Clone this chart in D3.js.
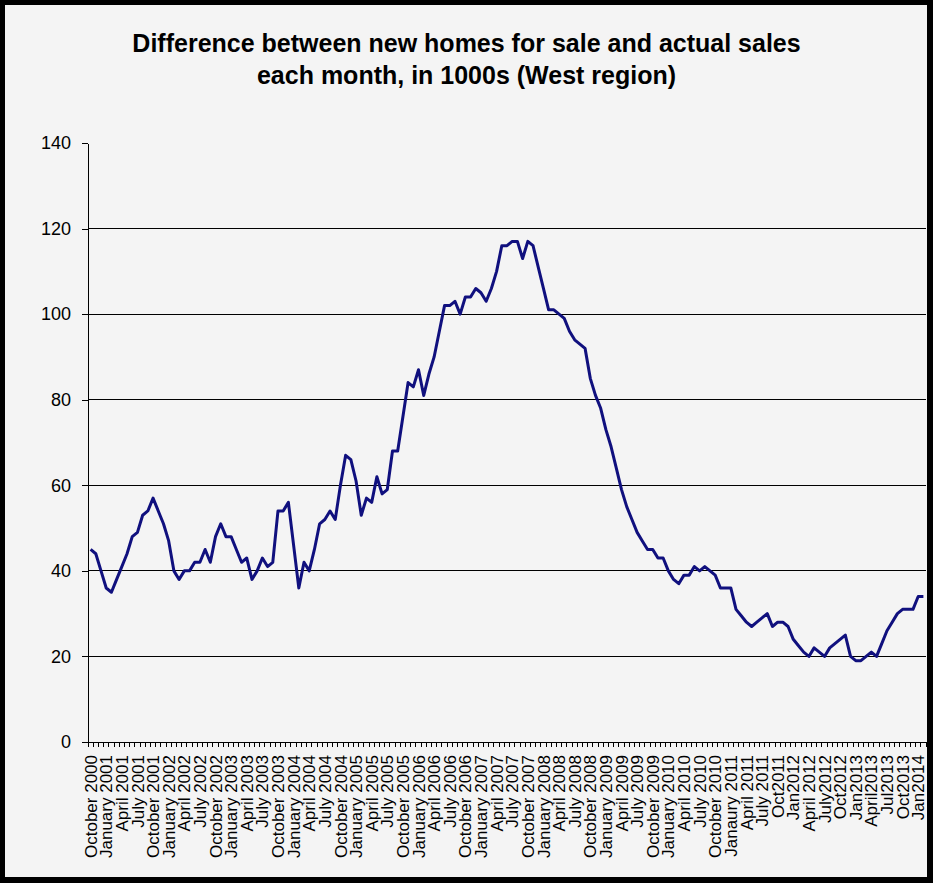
<!DOCTYPE html>
<html>
<head>
<meta charset="utf-8">
<script src="https://cdnjs.cloudflare.com/ajax/libs/d3/7.8.5/d3.min.js"></script>
<style>
  body { margin: 0; background: #000; }
  svg { display: block; font-family: Arial, "Liberation Sans", sans-serif; }
</style>
</head>
<body>
<div id="chart"></div>
<script>
// monthly values, October 2000 .. February 2014 (thousands)
const values = [
  45, 44, 40, 36, 35, 38, 41, 44, 48, 49, 53, 54, 57, 54, 51, 47, 40, 38, 40, 40,
  42, 42, 45, 42, 48, 51, 48, 48, 45, 42, 43, 38, 40, 43, 41, 42, 54, 54, 56, 46,
  36, 42, 40, 45, 51, 52, 54, 52, 60, 67, 66, 61, 53, 57, 56, 62, 58, 59, 68, 68,
  76, 84, 83, 87, 81, 86, 90, 96, 102, 102, 103, 100, 104, 104, 106, 105, 103, 106, 110, 116,
  116, 117, 117, 113, 117, 116, 111, 106, 101, 101, 100, 99, 96, 94, 93, 92, 85, 81, 78, 73,
  69, 64, 59, 55, 52, 49, 47, 45, 45, 43, 43, 40, 38, 37, 39, 39, 41, 40, 41, 40,
  39, 36, 36, 36, 31, 29.5, 28, 27, 28, 29, 30, 27, 28, 28, 27, 24, 22.5, 21, 20, 22,
  21, 20, 22, 23, 24, 25, 20, 19, 19, 20, 21, 20, 23, 26, 28, 30, 31, 31, 31, 34,
  34
];

// one label every third month, as written on the original axis
const tickLabels = [
  "October 2000",
  "January 2001", "April 2001", "July 2001", "October 2001",
  "January 2002", "April 2002", "July 2002", "October 2002",
  "January 2003", "April 2003", "July 2003", "October 2003",
  "January 2004", "April 2004", "July 2004", "October 2004",
  "January 2005", "April 2005", "July 2005", "October 2005",
  "January 2006", "April 2006", "July 2006", "October 2006",
  "January 2007", "April 2007", "July 2007", "October 2007",
  "January 2008", "April 2008", "July 2008", "October 2008",
  "January 2009", "April 2009", "July 2009", "October 2009",
  "January 2010", "April 2010", "July 2010", "October 2010",
  "Janaury 2011", "April 2011", "July 2011", "Oct2011",
  "Jan2012", "April 2012", "July2012", "Oct2012",
  "Jan2013", "April2013", "Jul2013", "Oct2013",
  "Jan2014"
];
const labelStep = 3;

const yTicks = [0, 20, 40, 60, 80, 100, 120, 140];
const gridValues = [20, 40, 60, 80, 100, 120];

const titleLines = [
  "Difference between new homes for sale and actual sales",
  "each month, in 1000s (West region)"
];

const W = 933, H = 883;
const plotL = 88, plotR = 926, plotT = 143, plotB = 742;

const svg = d3.select("#chart").append("svg")
  .attr("width", W).attr("height", H);

// black frame + light panel
svg.append("rect").attr("width", W).attr("height", H).attr("fill", "#000");
svg.append("rect").attr("x", 5).attr("y", 5).attr("width", 922).attr("height", 872)
  .attr("fill", "#f4f4f4");

// title
svg.append("g").selectAll("text").data(titleLines).enter()
  .append("text")
  .attr("x", W / 2).attr("y", (d, i) => 52 + i * 32)
  .attr("text-anchor", "middle")
  .attr("font-size", 25).attr("font-weight", "bold").attr("fill", "#000")
  .text(d => d);

const x = d3.scaleBand().domain(d3.range(values.length)).range([plotL, plotR]).padding(0);
const y = d3.scaleLinear().domain([0, 140]).range([plotB, plotT]);

// gridlines
svg.append("g").selectAll("line").data(gridValues).enter()
  .append("line")
  .attr("x1", plotL).attr("x2", plotR)
  .attr("y1", d => y(d)).attr("y2", d => y(d))
  .attr("stroke", "#000").attr("stroke-width", 1).attr("shape-rendering", "crispEdges");

// y axis
const yAxis = svg.append("g").attr("transform", `translate(${plotL},0)`)
  .call(d3.axisLeft(y).tickValues(yTicks).tickSize(6).tickSizeOuter(0).tickPadding(11));
yAxis.select(".domain").attr("stroke", "#000").attr("shape-rendering", "crispEdges");
yAxis.selectAll(".tick line").attr("stroke", "#000").attr("shape-rendering", "crispEdges");
yAxis.selectAll("text").attr("font-size", 18).attr("fill", "#000")
  .attr("font-family", "Arial, 'Liberation Sans', sans-serif");

// x axis line and a small tick between every month
const xg = svg.append("g");
xg.append("line").attr("x1", plotL).attr("x2", plotR).attr("y1", plotB).attr("y2", plotB)
  .attr("stroke", "#000").attr("shape-rendering", "crispEdges");
xg.selectAll("line.mt").data(d3.range(values.length + 1)).enter()
  .append("line").attr("class", "mt")
  .attr("x1", i => i < values.length ? x(i) : x(i - 1) + x.bandwidth())
  .attr("x2", i => i < values.length ? x(i) : x(i - 1) + x.bandwidth())
  .attr("y1", plotB).attr("y2", plotB + 5)
  .attr("stroke", "#000").attr("stroke-width", 1).attr("shape-rendering", "crispEdges");

xg.selectAll("text").data(tickLabels).enter()
  .append("text")
  .attr("transform", (d, i) => `translate(${x(i * labelStep) + x.bandwidth() / 2},755) rotate(-90)`)
  .attr("dy", "0.36em")
  .attr("text-anchor", "end")
  .attr("font-size", 17).attr("fill", "#000")
  .text(d => d);

// the series
const line = d3.line()
  .x((d, i) => x(i) + x.bandwidth() / 2)
  .y(d => y(d));
svg.append("path").datum(values)
  .attr("d", line)
  .attr("fill", "none").attr("stroke", "#10107e").attr("stroke-width", 3)
  .attr("stroke-linejoin", "round");
</script>
</body>
</html>
